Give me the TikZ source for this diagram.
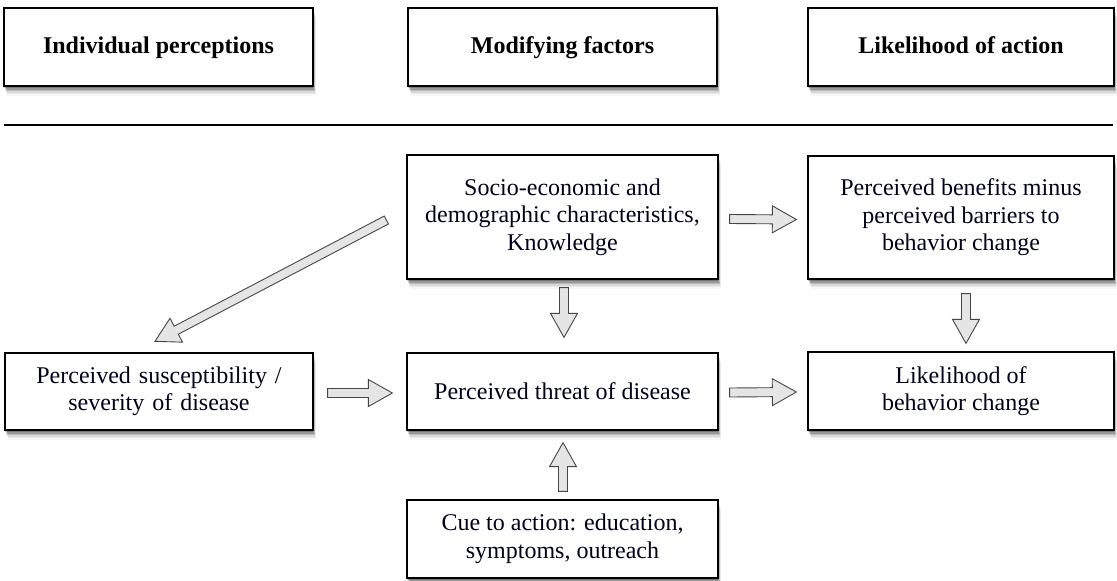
\documentclass[tikz,border=0pt]{standalone}
\usepackage{fontspec}
\setmainfont{Liberation Serif}
\usetikzlibrary{calc,shadows}
\tikzset{
  softshadow/.style={
    drop shadow={shadow xshift=0pt,shadow yshift=-2pt,opacity=.22,fill=black},
    drop shadow={shadow xshift=1pt,shadow yshift=-3.5pt,opacity=.18,fill=black},
    drop shadow={shadow xshift=1.5pt,shadow yshift=-5pt,opacity=.13,fill=black},
    drop shadow={shadow xshift=2pt,shadow yshift=-6.5pt,opacity=.08,fill=black},
    drop shadow={shadow xshift=2.5pt,shadow yshift=-8pt,opacity=.05,fill=black},
    drop shadow={shadow xshift=3pt,shadow yshift=-9.5pt,opacity=.03,fill=black}},
  box/.style={softshadow, draw=black, line width=1.3pt, fill=white,
    minimum height=78pt, align=center, inner sep=0pt,
    font=\fontsize{24}{27.5}\selectfont, text=black!90!blue},
  hbox/.style={box, font=\fontsize{24}{27.5}\selectfont\bfseries, text=black,
    text height=17pt, text depth=4pt},
  fat/.style={fill=gray!20, draw=gray!55!black, line width=0.9pt, line join=miter},
}
\newcommand\fatarrow[2]{%
  \path[fat] let \p1=#1, \p2=#2,
      \n1={atan2(\y2-\y1,\x2-\x1)},
      \n2={veclen(\x2-\x1,\y2-\y1)-24pt} in
    (\p1) ++(\n1+90:4.5pt) -- ++(\n1:\n2) -- ++(\n1+90:9pt) -- (\p2)
    -- ($(\p2)+(\n1+180:24pt)+(\n1-90:13.5pt)$) -- ++(\n1+90:9pt)
    -- ++(\n1+180:\n2) -- cycle;}
\begin{document}
\begin{tikzpicture}[x=1pt,y=-1pt]
\useasboundingbox[fill=white] (0,0) rectangle (1117,581);
% header
\node[hbox, minimum width=309pt] (h1) at (158.5,47) {Individual perceptions};
\node[hbox, minimum width=309pt] (h2) at (562.5,47) {Modifying factors};
\node[hbox, minimum width=306pt] (h3) at (961,47) {Likelihood of action};
\coordinate (lineL) at (4,125);
\coordinate (lineR) at (1113,125);
\draw[line width=1.3pt] (lineL) -- (lineR);
% main boxes
\node[box, minimum width=311pt, minimum height=124pt] (socio) at (562.5,217)
  {Socio-economic and\\demographic characteristics,\\Knowledge};
\node[box, minimum width=306pt, minimum height=123pt] (benefits) at (961,217.5)
  {Perceived benefits minus\\perceived barriers to\\behavior change};
\node[box, minimum width=308pt, minimum height=77pt, text width=300pt] (susc) at (159,391.5)
  {Perceived susceptibility \slash\par severity of disease};
\node[box, minimum width=311pt, minimum height=77pt] (threat) at (562.5,391.5)
  {Perceived threat of disease};
\node[box, minimum width=306pt, minimum height=78pt] (likely) at (961,391)
  {Likelihood of\\behavior change};
\node[box, minimum width=311pt, minimum height=78pt] (cue) at (562.5,539)
  {Cue to action: education,\\symptoms, outreach};
% arrows
\fatarrow{($(socio.east)+(11,2)$)}{($(benefits.west)+(-11,2)$)}
\fatarrow{($(threat.east)+(11,1)$)}{($(likely.west)+(-11,1)$)}
\fatarrow{($(susc.east)+(14,1.5)$)}{($(threat.west)+(-14,1.5)$)}
\fatarrow{($(socio.south)+(1.5,8)$)}{($(threat.north)+(1.5,-15)$)}
\fatarrow{($(benefits.south)+(5,14)$)}{($(likely.north)+(5,-8)$)}
\fatarrow{($(cue.north)+(0.5,-8)$)}{($(threat.south)+(0.5,12)$)}
\fatarrow{($(socio.west)+(-20,3)$)}{($(susc.north)+(-4,-11)$)}
\end{tikzpicture}
\end{document}
